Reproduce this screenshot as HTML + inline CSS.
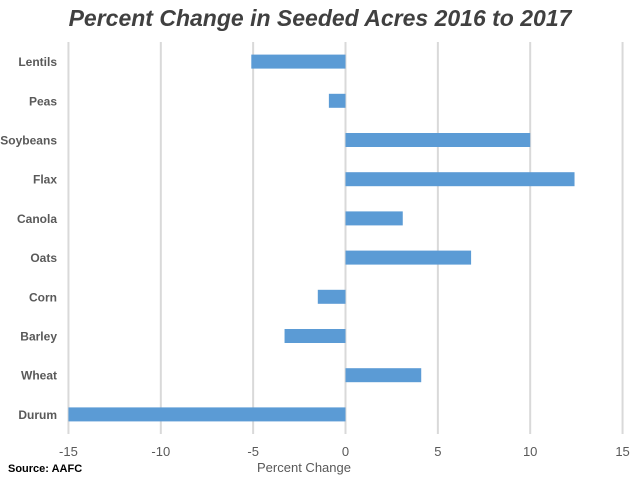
<!DOCTYPE html>
<html><head><meta charset="utf-8"><style>
body{margin:0;background:#fff;width:640px;height:480px;overflow:hidden;font-family:"Liberation Sans",sans-serif}
</style></head><body>
<svg id="chart" width="640" height="480">
<text x="320" y="26" text-anchor="middle" font-size="23" font-style="italic" font-weight="bold" fill="#404040">Percent Change in Seeded Acres 2016 to 2017</text>
<g id="grid"></g><g id="bars"></g><g id="ylabels"></g><g id="xlabels"></g>
<text x="304" y="472" text-anchor="middle" font-size="13" fill="#595959">Percent Change</text>
<text x="8" y="472" font-size="11" font-weight="bold" fill="#000">Source: AAFC</text>
</svg>
<script>
const categories=["Lentils","Peas","Soybeans","Flax","Canola","Oats","Corn","Barley","Wheat","Durum"];
const values=[-5.1,-0.9,10,12.4,3.1,6.8,-1.5,-3.3,4.1,-15];
const ticks=[-15,-10,-5,0,5,10,15];
const NS="http://www.w3.org/2000/svg";
const x=v=>345.5+(v)*18.47;
const top0=42,bot=434,band=(bot-top0)/categories.length;
const y=i=>top0+band*i+band/2;
function mk(t,a,p){const e=document.createElementNS(NS,t);for(const k in a)e.setAttribute(k,a[k]);p.appendChild(e);return e;}
const g=document.getElementById('grid'),b=document.getElementById('bars'),yl=document.getElementById('ylabels'),xl=document.getElementById('xlabels');
ticks.forEach(t=>{
 const l=mk('line',{x1:x(t),x2:x(t),y1:top0,y2:bot,stroke:'#d9d9d9','stroke-width':2},g);
 
 
 const tx=mk('text',{x:x(t),y:456,'text-anchor':'middle','font-size':13,fill:'#595959'},xl);
 tx.textContent=t;
 
 
});
categories.forEach((c,i)=>{
 const v=values[i];
 const r=mk('rect',{x:Math.min(x(0),x(v)),y:y(i)-7,width:Math.abs(x(v)-x(0)),height:14,fill:'#5b9bd5'},b);
 
 
 const t=mk('text',{x:57,y:y(i)+4.5,'text-anchor':'end','font-size':12,'font-weight':'bold',fill:'#595959'},yl);
 t.textContent=c;
 
 
});
</script>
</body></html>
